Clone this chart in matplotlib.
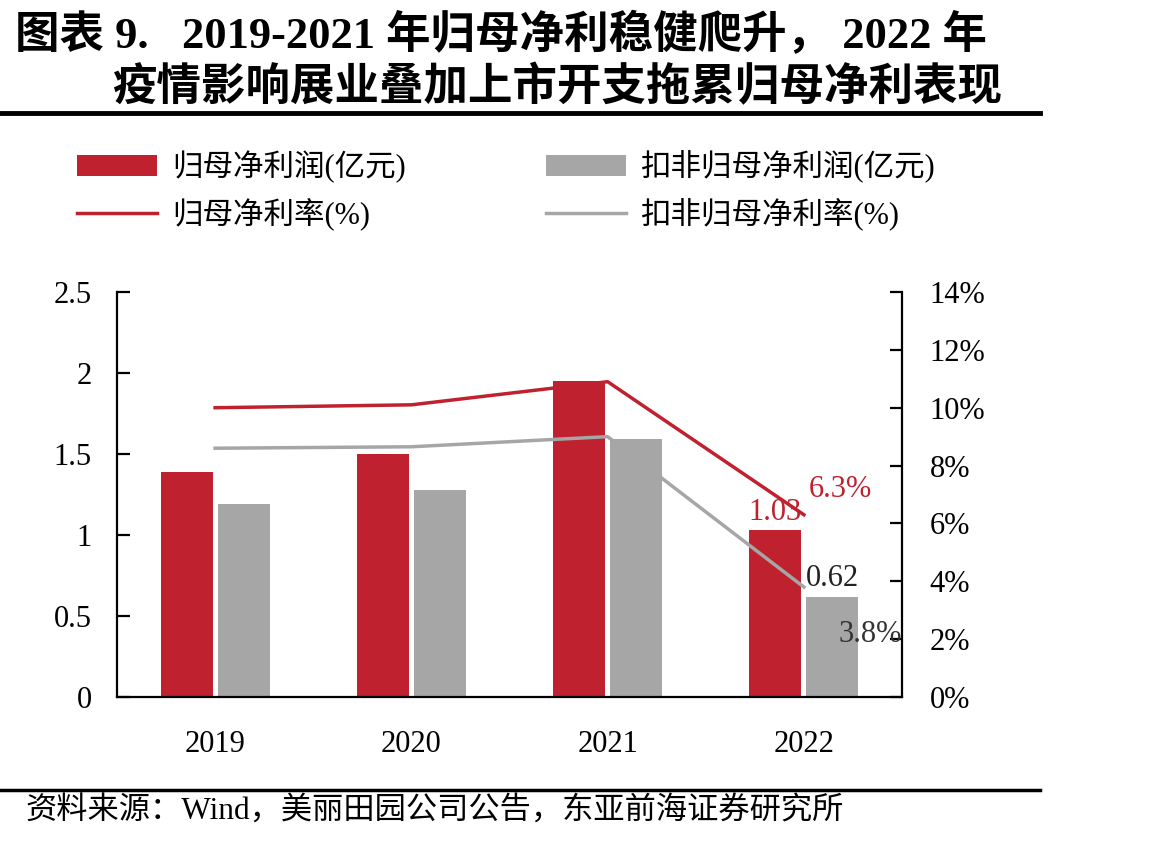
import matplotlib
matplotlib.use("Agg")
import matplotlib.pyplot as plt
from matplotlib.ticker import FuncFormatter

plt.rcParams['font.family'] = ['Liberation Serif', 'Noto Sans CJK SC']

years = ['2019', '2020', '2021', '2022']
net_profit = [1.39, 1.50, 1.95, 1.03]          # 归母净利润(亿元)
net_profit_adj = [1.19, 1.28, 1.59, 0.62]      # 扣非归母净利润(亿元)
net_margin = [0.100, 0.101, 0.109, 0.063]      # 归母净利率
net_margin_adj = [0.086, 0.0865, 0.090, 0.038]  # 扣非归母净利率

title_1 = '图表 9.   2019-2021 年归母净利稳健爬升， 2022 年'
title_2 = '疫情影响展业叠加上市开支拖累归母净利表现'
source = '资料来源：Wind，美丽田园公司公告，东亚前海证券研究所'

RED = '#C0212F'
GRAY = '#A6A6A6'

fig = plt.figure(figsize=(11.71, 8.44), dpi=100)
ax = fig.add_axes([0.0999, 0.1742, 0.6704, 0.4798])
ax2 = ax.twinx()

x = list(range(len(years)))
w = 0.265
off = 0.145
b1 = ax.bar([i - off for i in x], net_profit, width=w, color=RED, label='归母净利润(亿元)')
b2 = ax.bar([i + off for i in x], net_profit_adj, width=w, color=GRAY, label='扣非归母净利润(亿元)')
l1, = ax2.plot(x, net_margin, color=RED, lw=2.5, label='归母净利率(%)')
l2, = ax2.plot(x, net_margin_adj, color=GRAY, lw=2.5, label='扣非归母净利率(%)')

ax.set_xlim(-0.5, 3.5)
ax.set_ylim(0, 2.5)
ax.set_yticks([0, 0.5, 1, 1.5, 2, 2.5])
ax.yaxis.set_major_formatter(FuncFormatter(lambda v, p: f'{v:g}'))
ax2.set_ylim(0, 0.14)
ax2.set_yticks([i / 100 for i in range(0, 15, 2)])
ax2.yaxis.set_major_formatter(FuncFormatter(lambda v, p: f'{round(v * 100)}%'))

ax.set_xticks(x)
ax.set_xticklabels(years)
ax.tick_params(axis='x', length=0, labelsize=22, pad=24)
ax.tick_params(axis='y', direction='in', length=9, width=1.6, labelsize=22, pad=18)
ax2.tick_params(axis='y', direction='in', length=9, width=1.6, labelsize=22, pad=20)

for a in (ax, ax2):
    a.spines['top'].set_visible(False)
    for s in a.spines.values():
        s.set_linewidth(1.6)
ax.spines['right'].set_visible(False)
ax2.spines['left'].set_visible(False)
ax2.spines['bottom'].set_visible(False)

# data labels for 2022
ax.text(3 - off, net_profit[3] + 0.02, f'{net_profit[3]:.2f}', color=RED, fontsize=22,
        ha='center', va='bottom')
ax.text(3 + off, net_profit_adj[3] + 0.02, f'{net_profit_adj[3]:.2f}', color='#222222', fontsize=22,
        ha='center', va='bottom')
ax2.annotate(f'{net_margin[3] * 100:.1f}%', (3, net_margin[3]), xytext=(26, 18),
             textcoords='offset points', color=RED, fontsize=22, ha='center', va='center')
ax2.annotate(f'{net_margin_adj[3] * 100:.1f}%', (3, net_margin_adj[3]), xytext=(48, -34),
             textcoords='offset points', color='#333333', fontsize=22, ha='center', va='center')

fig.legend([b1, l1, b2, l2],
           ['归母净利润(亿元)', '归母净利率(%)', '扣非归母净利润(亿元)', '扣非归母净利率(%)'],
           ncol=2, loc='upper left', bbox_to_anchor=(0.066, 0.822), frameon=False,
           fontsize=22, borderpad=0, borderaxespad=0, handlelength=2.6, handleheight=0.7,
           handletextpad=0.5, columnspacing=4.6, labelspacing=0.5)

fig.text(15 / 1171, 1 - 35 / 844, title_1, fontsize=32, fontweight='bold', ha='left', va='center')
fig.text(112 / 1171, 1 - 88 / 844, title_2, fontsize=32, fontweight='bold', ha='left', va='center')
fig.add_artist(plt.Line2D([0, 1040 / 1171], [1 - 113 / 844] * 2, color='black', lw=3.5))
fig.add_artist(plt.Line2D([0, 1040 / 1171], [1 - 790 / 844] * 2, color='black', lw=2.5))
fig.text(25 / 1171, 1 - 812 / 844, source, fontsize=22.5, ha='left', va='center')

fig.savefig('out.png', dpi=100)
